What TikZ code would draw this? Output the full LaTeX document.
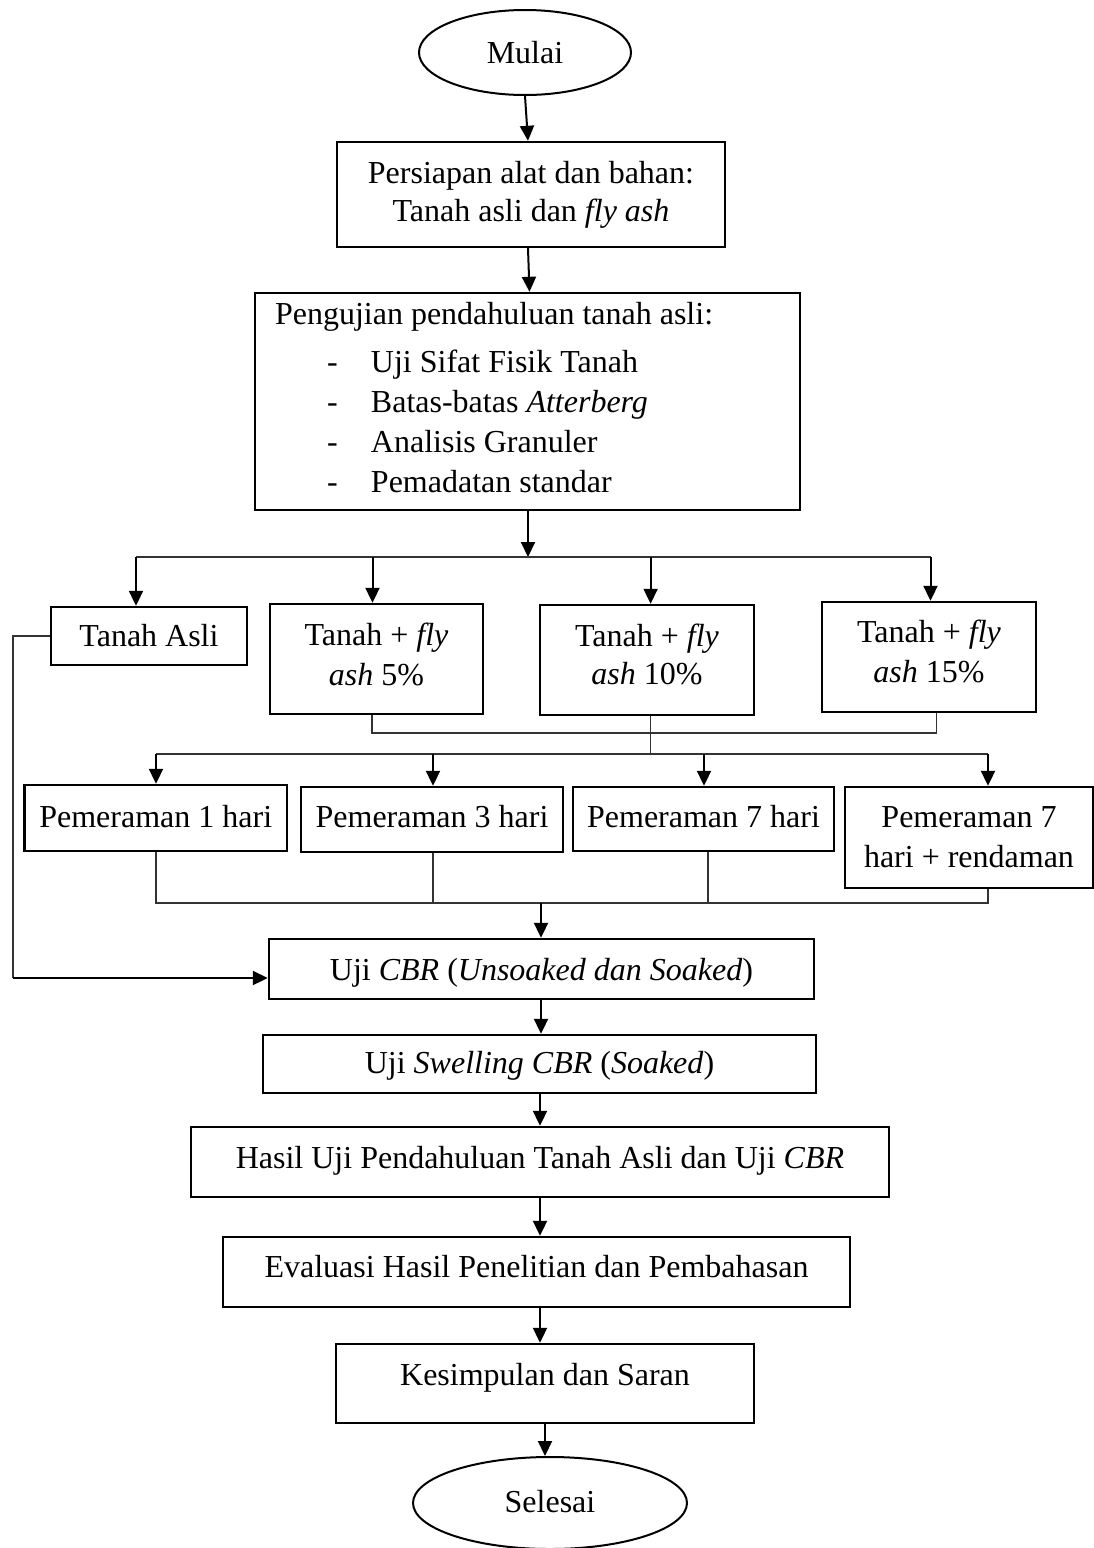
\documentclass[tikz,border=0pt]{standalone}
\usepackage{fontspec}
\setmainfont{Liberation Serif}
\usetikzlibrary{arrows.meta,shapes.geometric}
\newcommand{\hs}{\rule{0pt}{22pt}}
\newcommand{\ds}[1]{\rule[-#1pt]{0pt}{#1pt}}
\newcommand{\itm}{\hspace*{52pt}\makebox[44pt][l]{-}}
\begin{document}
\begin{tikzpicture}[x=1pt,y=-1pt,
  font=\fontsize{32}{40}\selectfont,
  box/.style={draw, line width=2.4pt, rectangle, inner sep=0pt, text height=22pt, text depth=6pt, align=center},
  mbox/.style={draw, line width=2.4pt, rectangle, inner sep=0pt, align=center},
  term/.style={draw, ellipse, line width=2pt, inner sep=0pt, text height=22pt},
  arr/.style={line width=2pt, draw=black, -{Triangle[width=14pt,length=15pt]}},
  thinl/.style={line width=1.2pt, draw=black!80}]
\useasboundingbox (0,0) rectangle (1094,1548);

% nodes
\node[term, minimum width=212pt, minimum height=85pt, text depth=0pt] (mulai) at (525,52.5) {Mulai};
\node[mbox, minimum width=388pt, minimum height=105pt] (persiapan) at (531,194.5)
  {\hs Persiapan alat dan bahan:\\[-2pt]Tanah asli dan \textit{fly ash}\ds{7}};
\node[mbox, minimum width=545pt, minimum height=217pt, inner xsep=20pt, text width=505pt, align=flush left] (pengujian) at (527.5,401.5)
  {\spaceskip=0pt\xspaceskip=0pt\relax\noindent\hs Pengujian pendahuluan tanah asli:\\[8pt]
   \itm Uji Sifat Fisik Tanah\\
   \itm Batas-batas \textit{Atterberg}\\
   \itm Analisis Granuler\\
   \itm Pemadatan standar\ds{8.5}};

\node[box, minimum width=196pt, minimum height=58pt, text depth=2pt] (asli) at (149,636) {Tanah Asli};
\node[mbox, minimum width=213pt, minimum height=110pt] (f5) at (376.5,659)
  {\hs Tanah + \textit{fly}\\\textit{ash} 5\%\ds{10}};
\node[mbox, minimum width=214pt, minimum height=110pt] (f10) at (647,660)
  {\hs Tanah + \textit{fly}\\[-2pt]\textit{ash} 10\%\ds{12}};
\node[mbox, minimum width=214pt, minimum height=110pt] (f15) at (929,657)
  {\hs Tanah + \textit{fly}\\\textit{ash} 15\%\ds{12}};

\node[box, minimum width=262.5pt, minimum height=66pt, text depth=4pt] (p1) at (155.75,818) {Pemeraman 1 hari};
\node[box, minimum width=262pt, minimum height=65pt, text depth=7pt] (p3) at (432,819.5) {Pemeraman 3 hari};
\node[box, minimum width=261pt, minimum height=64pt, text depth=6pt] (p7) at (703.5,819) {Pemeraman 7 hari};
\node[mbox, minimum width=248pt, minimum height=101pt] (p7r) at (969,837.5)
  {\hs Pemeraman 7\\hari + rendaman\ds{3}};

\node[box, minimum width=545pt, minimum height=60pt, text depth=0pt] (cbr) at (541.5,969)
  {Uji \textit{CBR} (\textit{Unsoaked dan Soaked})};
\node[box, minimum width=553pt, minimum height=58pt, text depth=4pt] (swell) at (539.5,1064)
  {Uji \textit{Swelling CBR} (\textit{Soaked})};
\node[box, minimum width=698pt, minimum height=70pt, text depth=10pt] (hasil) at (540,1162)
  {Hasil Uji Pendahuluan Tanah Asli dan Uji \textit{CBR}};
\node[box, minimum width=627pt, minimum height=70pt, text depth=12pt] (eval) at (536.5,1272)
  {Evaluasi Hasil Penelitian dan Pembahasan};
\node[box, minimum width=418pt, minimum height=79pt, text depth=19pt] (kes) at (545,1383.5)
  {Kesimpulan dan Saran};
\node[term, minimum width=274pt, minimum height=92pt, text depth=4pt] (selesai) at (550,1503) {Selesai};

% coordinates
\coordinate (bus) at (528,557);
\coordinate (b1) at (136,557);
\coordinate (b2) at (372.5,557);
\coordinate (b3) at (650.6,557);
\coordinate (b4) at (930.5,557);
\coordinate (m1) at (372,733);
\coordinate (m2) at (650.6,754);
\coordinate (m3) at (936.5,733);
\coordinate (c1) at (156,754);
\coordinate (c2) at (433,754);
\coordinate (c3) at (704,754);
\coordinate (c4) at (988,754);
\coordinate (d1) at (156,903);
\coordinate (d2) at (433,903);
\coordinate (d3) at (708,903);
\coordinate (d4) at (988,903);
\coordinate (e) at (541,903);
\coordinate (l1) at (13,636);
\coordinate (l2) at (13,978);

% connectors
\draw[arr] (mulai.south) -- ([xshift=-3pt]persiapan.north);
\draw[arr] ([xshift=-3pt]persiapan.south) -- ([xshift=2pt]pengujian.north);
\draw[arr] ([xshift=0.5pt]pengujian.south) -- (bus);
\draw[thinl] (b1) -- (b4);
\draw[arr] (b1) -- (b1 |- asli.north);
\draw[arr] (b2) -- (b2 |- f5.north);
\draw[arr] (b3) -- (b3 |- f10.north);
\draw[arr] (b4) -- (b4 |- f15.north);

\draw[thinl] (m1 |- f5.south) -- (m1) -- (m3) -- (m3 |- f15.south);
\draw[thinl] (m2 |- f10.south) -- (m2);
\draw[thinl] (c1) -- (c4);
\draw[arr] (c1) -- (c1 |- p1.north);
\draw[arr] (c2) -- (c2 |- p3.north);
\draw[arr] (c3) -- (c3 |- p7.north);
\draw[arr] (c4) -- (c4 |- p7r.north);

\draw[thinl] (d1 |- p1.south) -- (d1) -- (d4) -- (d4 |- p7r.south);
\draw[thinl] (d2 |- p3.south) -- (d2);
\draw[thinl] (d3 |- p7.south) -- (d3);
\draw[arr] (e) -- (e |- cbr.north);

\draw[thinl] (asli.west) -- (l1) -- (l2);
\draw[arr] (l2) -- (l2 -| cbr.west);

\draw[arr] (cbr.south -| e) -- (e |- swell.north);
\draw[arr] (swell.south -| hasil.north) -- (hasil.north);
\draw[arr] (hasil.south) -- (hasil.south |- eval.north);
\draw[arr] (hasil.south |- eval.south) -- (hasil.south |- kes.north);
\draw[arr] (kes.south) -- (kes.south |- selesai.north);
\end{tikzpicture}
\end{document}
